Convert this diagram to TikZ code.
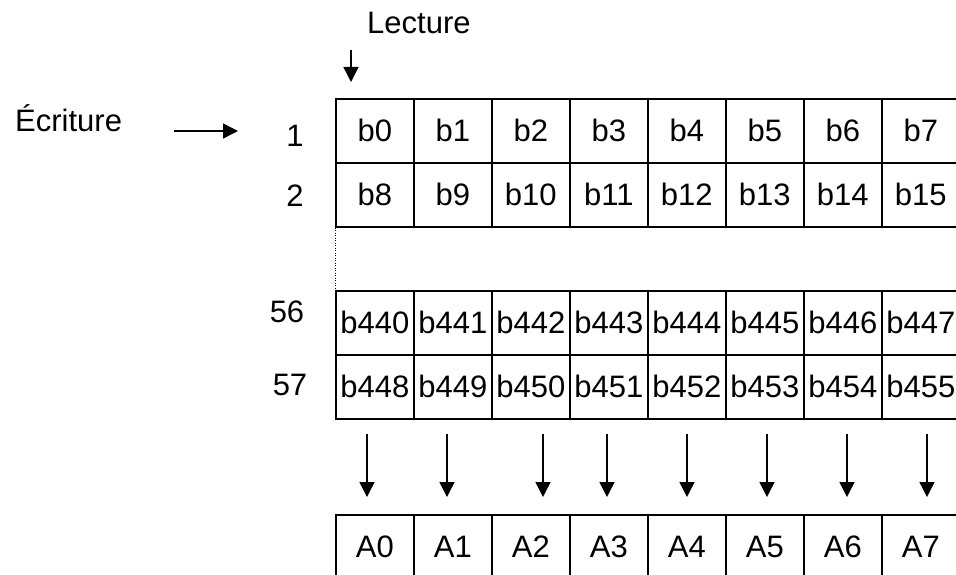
\documentclass[tikz,border=0pt]{standalone}
\usepackage{fontspec}
\setmainfont{Liberation Sans}
\usetikzlibrary{arrows.meta}
\begin{document}
\begin{tikzpicture}[x=1pt,y=-1pt,
  cell/.style={draw, line width=1.6pt, minimum width=78pt, minimum height=64pt, inner sep=0pt, anchor=north west, font=\fontsize{31}{37}\selectfont},
  lbl/.style={font=\fontsize{31}{37}\selectfont, inner sep=0pt},
  arr/.style={line width=1.4pt, -{Triangle[length=15pt,width=15pt]}}]
\clip (0,0) rectangle (956,575);
\fill[white] (0,0) rectangle (956,575);
% rows
\foreach \i in {0,...,7}{
  \node[cell] (ra-\i) at ({335+78*\i},98) {b\i};
  \node[cell] (rb-\i) at ({335+78*\i},162) {b\the\numexpr8+\i\relax};
  \node[cell] (rc-\i) at ({335+78*\i},290) {b\the\numexpr440+\i\relax};
  \node[cell] (rd-\i) at ({335+78*\i},354) {b\the\numexpr448+\i\relax};
  \node[cell] (re-\i) at ({335+78*\i},514) {A\i};
}
% dotted continuation
\draw[line width=0.8pt, dash pattern=on 1pt off 1.5pt] (rb-0.south west) -- (rc-0.north west);
% row labels
\node[lbl] (l1) at (295,136) {1};
\node[lbl] (l2) at (295,196) {2};
\node[lbl] (l56) at (287,312) {56};
\node[lbl] (l57) at (290,385) {57};
% titles
\node[lbl, anchor=base west] (ecr) at (15,132) {Écriture};
\node[lbl, anchor=base west] (lec) at (367,34) {Lecture};
\coordinate (ecrs) at (174,131);
\coordinate (ecre) at (238,131);
\draw[arr] (ecrs) -- (ecre);
\coordinate (lecs) at (351,50);
\coordinate (lece) at (351,82);
\draw[arr] (lecs) -- (lece);
% output arrows
\foreach \x [count=\k] in {367,447,543,607,687,767,847,927}{
  \coordinate (s\k) at (\x,434);
  \coordinate (e\k) at (\x,497);
  \draw[arr] (s\k) -- (e\k);
}
\end{tikzpicture}
\end{document}
